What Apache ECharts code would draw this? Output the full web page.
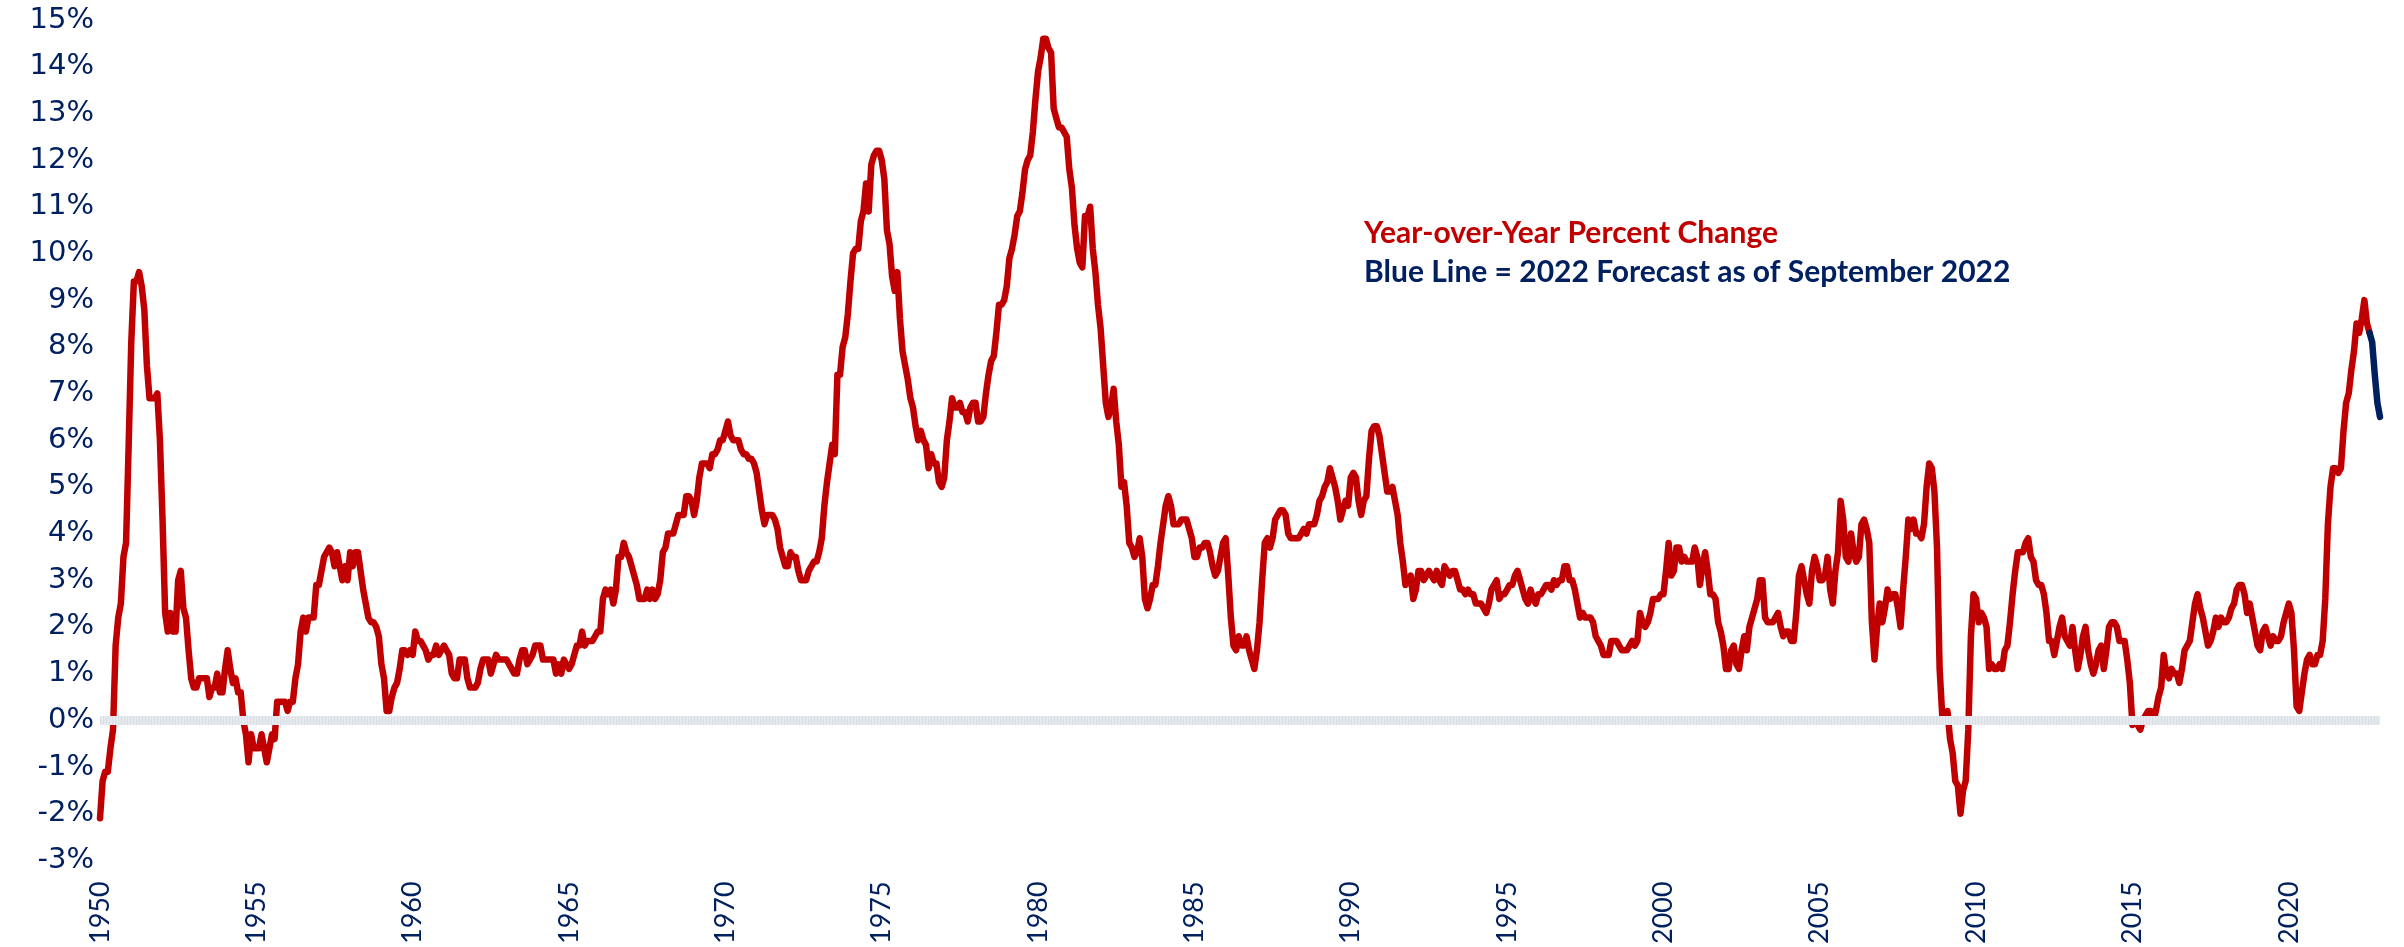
<!DOCTYPE html>
<html>
<head>
<meta charset="utf-8">
<title>CPI year-over-year</title>
<script src="https://cdn.jsdelivr.net/npm/echarts@6/dist/echarts.min.js"></script>
<style>
  html, body { margin: 0; padding: 0; background: #fff; }
  #cpi_chart { width: 2404px; height: 947px; }
</style>
</head>
<body>
<div id="cpi_chart"></div>
<script>
// 月度同比数据 (%), 每个数组一个年代, 每年 12 个月
var cpi1950s = [
  -2.1,-1.3,-1.1,-1.1,-0.6,-0.2, 1.6, 2.2, 2.5, 3.5, 3.8, 5.9,
   8.1, 9.4, 9.4, 9.6, 9.3, 8.8, 7.6, 6.9, 6.9, 6.9, 7.0, 6.0,
   4.3, 2.3, 1.9, 2.3, 1.9, 1.9, 3.0, 3.2, 2.4, 2.2, 1.5, 0.9,
   0.7, 0.7, 0.9, 0.9, 0.9, 0.9, 0.5, 0.7, 0.7, 1.0, 0.6, 0.6,
   1.1, 1.5, 1.1, 0.8, 0.9, 0.6, 0.6, 0.0,-0.3,-0.9,-0.3,-0.6,
  -0.6,-0.6,-0.3,-0.6,-0.9,-0.6,-0.3,-0.4, 0.4, 0.4, 0.4, 0.4,
   0.2, 0.4, 0.4, 0.9, 1.2, 1.9, 2.2, 1.9, 2.2, 2.2, 2.2, 2.9,
   2.9, 3.2, 3.5, 3.6, 3.7, 3.6, 3.3, 3.6, 3.3, 3.0, 3.3, 3.0,
   3.6, 3.3, 3.6, 3.6, 3.2, 2.8, 2.5, 2.2, 2.1, 2.1, 2.0, 1.8,
   1.2, 0.9, 0.2, 0.2, 0.5, 0.7, 0.8, 1.1, 1.5, 1.5, 1.4, 1.5
];
var cpi1960s = [
  1.4, 1.9, 1.7, 1.7, 1.6, 1.5, 1.3, 1.4, 1.4, 1.6, 1.4, 1.5,
  1.6, 1.5, 1.4, 1.0, 0.9, 0.9, 1.3, 1.3, 1.3, 0.9, 0.7, 0.7,
  0.7, 0.8, 1.1, 1.3, 1.3, 1.3, 1.0, 1.2, 1.4, 1.3, 1.3, 1.3,
  1.3, 1.2, 1.1, 1.0, 1.0, 1.3, 1.5, 1.5, 1.2, 1.3, 1.4, 1.6,
  1.6, 1.6, 1.3, 1.3, 1.3, 1.3, 1.3, 1.0, 1.2, 1.0, 1.3, 1.2,
  1.1, 1.2, 1.4, 1.6, 1.6, 1.9, 1.6, 1.7, 1.7, 1.7, 1.8, 1.9,
  1.9, 2.6, 2.8, 2.7, 2.8, 2.5, 2.8, 3.5, 3.5, 3.8, 3.6, 3.5,
  3.3, 3.1, 2.9, 2.6, 2.6, 2.6, 2.8, 2.6, 2.8, 2.6, 2.7, 3.0,
  3.6, 3.7, 4.0, 4.0, 4.0, 4.2, 4.4, 4.4, 4.4, 4.8, 4.8, 4.7,
  4.4, 4.7, 5.2, 5.5, 5.5, 5.5, 5.4, 5.7, 5.7, 5.8, 6.0, 6.0
];
var cpi1970s = [
   6.2, 6.4, 6.1, 6.0, 6.0, 6.0, 5.8, 5.7, 5.7, 5.6, 5.6, 5.5,
   5.3, 4.9, 4.5, 4.2, 4.4, 4.4, 4.4, 4.3, 4.1, 3.7, 3.5, 3.3,
   3.3, 3.6, 3.5, 3.5, 3.2, 3.0, 3.0, 3.0, 3.2, 3.3, 3.4, 3.4,
   3.6, 3.9, 4.6, 5.1, 5.5, 5.9, 5.7, 7.4, 7.4, 8.0, 8.2, 8.7,
   9.4,10.0,10.1,10.1,10.7,10.9,11.5,10.9,11.9,12.1,12.2,12.2,
  12.0,11.6,10.5,10.2, 9.5, 9.2, 9.6, 8.6, 7.9, 7.6, 7.3, 6.9,
   6.7, 6.3, 6.0, 6.2, 6.0, 5.9, 5.4, 5.7, 5.5, 5.5, 5.1, 5.0,
   5.2, 6.0, 6.4, 6.9, 6.7, 6.7, 6.8, 6.6, 6.6, 6.4, 6.7, 6.8,
   6.8, 6.4, 6.4, 6.5, 7.0, 7.4, 7.7, 7.8, 8.3, 8.9, 8.9, 9.0,
   9.3, 9.9,10.1,10.4,10.8,10.9,11.3,11.8,12.0,12.1,12.6,13.3
];
var cpi1980s = [
  13.9,14.2,14.6,14.6,14.4,14.3,13.1,12.9,12.7,12.7,12.6,12.5,
  11.8,11.4,10.6,10.1, 9.8, 9.7,10.8,10.8,11.0,10.1, 9.6, 8.9,
   8.4, 7.6, 6.8, 6.5, 6.7, 7.1, 6.4, 5.9, 5.0, 5.1, 4.6, 3.8,
   3.7, 3.5, 3.6, 3.9, 3.5, 2.6, 2.4, 2.6, 2.9, 2.9, 3.3, 3.8,
   4.2, 4.6, 4.8, 4.6, 4.2, 4.2, 4.2, 4.3, 4.3, 4.3, 4.1, 3.9,
   3.5, 3.5, 3.7, 3.7, 3.8, 3.8, 3.6, 3.3, 3.1, 3.2, 3.5, 3.8,
   3.9, 3.1, 2.2, 1.6, 1.5, 1.8, 1.6, 1.6, 1.8, 1.5, 1.3, 1.1,
   1.5, 2.1, 3.0, 3.8, 3.9, 3.7, 3.9, 4.3, 4.4, 4.5, 4.5, 4.4,
   4.0, 3.9, 3.9, 3.9, 3.9, 4.0, 4.1, 4.0, 4.2, 4.2, 4.2, 4.4,
   4.7, 4.8, 5.0, 5.1, 5.4, 5.2, 5.0, 4.7, 4.3, 4.5, 4.7, 4.6
];
var cpi1990s = [
  5.2, 5.3, 5.2, 4.7, 4.4, 4.7, 4.8, 5.6, 6.2, 6.3, 6.3, 6.1,
  5.7, 5.3, 4.9, 4.9, 5.0, 4.7, 4.4, 3.8, 3.4, 2.9, 3.0, 3.1,
  2.6, 2.8, 3.2, 3.2, 3.0, 3.1, 3.2, 3.1, 3.0, 3.2, 3.0, 2.9,
  3.3, 3.2, 3.1, 3.2, 3.2, 3.0, 2.8, 2.8, 2.7, 2.8, 2.7, 2.7,
  2.5, 2.5, 2.5, 2.4, 2.3, 2.5, 2.8, 2.9, 3.0, 2.6, 2.7, 2.7,
  2.8, 2.9, 2.9, 3.1, 3.2, 3.0, 2.8, 2.6, 2.5, 2.8, 2.6, 2.5,
  2.7, 2.7, 2.8, 2.9, 2.9, 2.8, 3.0, 2.9, 3.0, 3.0, 3.3, 3.3,
  3.0, 3.0, 2.8, 2.5, 2.2, 2.3, 2.2, 2.2, 2.2, 2.1, 1.8, 1.7,
  1.6, 1.4, 1.4, 1.4, 1.7, 1.7, 1.7, 1.6, 1.5, 1.5, 1.5, 1.6,
  1.7, 1.6, 1.7, 2.3, 2.1, 2.0, 2.1, 2.3, 2.6, 2.6, 2.6, 2.7
];
var cpi2000s = [
   2.7, 3.2, 3.8, 3.1, 3.2, 3.7, 3.7, 3.4, 3.5, 3.4, 3.4, 3.4,
   3.7, 3.5, 2.9, 3.3, 3.6, 3.2, 2.7, 2.7, 2.6, 2.1, 1.9, 1.6,
   1.1, 1.1, 1.5, 1.6, 1.2, 1.1, 1.5, 1.8, 1.5, 2.0, 2.2, 2.4,
   2.6, 3.0, 3.0, 2.2, 2.1, 2.1, 2.1, 2.2, 2.3, 2.0, 1.8, 1.9,
   1.9, 1.7, 1.7, 2.3, 3.1, 3.3, 3.0, 2.7, 2.5, 3.2, 3.5, 3.3,
   3.0, 3.0, 3.1, 3.5, 2.8, 2.5, 3.2, 3.6, 4.7, 4.3, 3.5, 3.4,
   4.0, 3.6, 3.4, 3.5, 4.2, 4.3, 4.1, 3.8, 2.1, 1.3, 2.0, 2.5,
   2.1, 2.4, 2.8, 2.6, 2.7, 2.7, 2.4, 2.0, 2.8, 3.5, 4.3, 4.1,
   4.3, 4.0, 4.0, 3.9, 4.2, 5.0, 5.5, 5.4, 4.9, 3.7, 1.1, 0.1,
   0.0, 0.2,-0.4,-0.7,-1.3,-1.4,-2.0,-1.5,-1.3,-0.2, 1.8, 2.7
];
var cpi2010s = [
   2.6, 2.1, 2.3, 2.2, 2.0, 1.1, 1.2, 1.1, 1.1, 1.2, 1.1, 1.5,
   1.6, 2.1, 2.7, 3.2, 3.6, 3.6, 3.6, 3.8, 3.9, 3.5, 3.4, 3.0,
   2.9, 2.9, 2.7, 2.3, 1.7, 1.7, 1.4, 1.7, 2.0, 2.2, 1.8, 1.7,
   1.6, 2.0, 1.5, 1.1, 1.4, 1.8, 2.0, 1.5, 1.2, 1.0, 1.2, 1.5,
   1.6, 1.1, 1.5, 2.0, 2.1, 2.1, 2.0, 1.7, 1.7, 1.7, 1.3, 0.8,
  -0.1, 0.0,-0.1,-0.2, 0.0, 0.1, 0.2, 0.2, 0.0, 0.2, 0.5, 0.7,
   1.4, 1.0, 0.9, 1.1, 1.0, 1.0, 0.8, 1.1, 1.5, 1.6, 1.7, 2.1,
   2.5, 2.7, 2.4, 2.2, 1.9, 1.6, 1.7, 1.9, 2.2, 2.0, 2.2, 2.1,
   2.1, 2.2, 2.4, 2.5, 2.8, 2.9, 2.9, 2.7, 2.3, 2.5, 2.2, 1.9,
   1.6, 1.5, 1.9, 2.0, 1.8, 1.6, 1.8, 1.7, 1.7, 1.8, 2.1, 2.3
];
// 2020 年 1 月 - 2022 年 8 月 实际值
var cpi2020s = [
  2.5, 2.3, 1.5, 0.3, 0.2, 0.6, 1.0, 1.3, 1.4, 1.2, 1.2, 1.4,
  1.4, 1.7, 2.6, 4.2, 5.0, 5.4, 5.4, 5.3, 5.4, 6.2, 6.8, 7.0,
  7.5, 7.9, 8.5, 8.3, 8.6, 9.0, 8.5, 8.3
];
// 2022 年 8 月 - 12 月 预测 (蓝线)
var forecast2022 = [8.3, 8.1, 7.4, 6.8, 6.5];

var firstYear = 1950;
var lastYear = 2022;
var yTicks = { min: -3, max: 15, step: 1 };

function draw_cpi_chart() {
    var chart = echarts.init(document.getElementById('cpi_chart'));

    var months = [];
    for (var y = firstYear; y <= lastYear; y++) {
        for (var m = 1; m <= 12; m++) {
            months.push(y + '-' + (m < 10 ? '0' + m : m));
        }
    }

    var actual = [].concat(cpi1950s, cpi1960s, cpi1970s, cpi1980s, cpi1990s, cpi2000s, cpi2010s, cpi2020s);
    var blue = [];
    for (var i = 0; i < months.length - forecast2022.length; i++) blue.push(null);
    blue = blue.concat(forecast2022);

    var navy = '#002060';
    var option = {
        animation: false,
        grid: { left: 100, right: 24, top: 20, bottom: 84, containLabel: false },
        xAxis: {
            type: 'category',
            data: months,
            boundaryGap: false,
            axisLine: { show: false, onZero: false },
            axisTick: { show: false },
            axisLabel: {
                rotate: 90,
                margin: 21,
                color: navy,
                fontFamily: 'Lato',
                fontSize: 27,
                interval: function (idx) { return idx % 60 === 0; },
                formatter: function (v) { return v.slice(0, 4); }
            },
            splitLine: { show: false }
        },
        yAxis: {
            type: 'value',
            min: yTicks.min,
            max: yTicks.max,
            interval: yTicks.step,
            axisLine: { show: false },
            axisTick: { show: false },
            splitLine: { show: false },
            axisLabel: {
                margin: 6,
                color: navy,
                fontFamily: 'DejaVu Sans',
                fontSize: 29,
                formatter: '{value}%'
            }
        },
        graphic: [
            {
                type: 'text', x: 1364, y: 233,
                style: { text: 'Year-over-Year Percent Change', fill: '#c00000',
                         font: 'bold 30px Lato', verticalAlign: 'middle' }
            },
            {
                type: 'text', x: 1364, y: 272,
                style: { text: 'Blue Line = 2022 Forecast as of September 2022', fill: navy,
                         font: 'bold 30px Lato', verticalAlign: 'middle' }
            }
        ],
        series: [
            {
                // 零线 (灰色带)
                name: 'zero',
                type: 'line',
                data: [],
                z: 1,
                silent: true,
                markLine: {
                    silent: true,
                    symbol: 'none',
                    label: { show: false },
                    data: [
                        { yAxis: 0, lineStyle: { color: '#e6e9ee', width: 9, type: 'solid' } },
                        { yAxis: 0, lineStyle: { color: '#dadee6', width: 9, type: [1, 2] } }
                    ]
                }
            },
            {
                name: 'YoY',
                type: 'line',
                data: actual,
                z: 3,
                symbol: 'none',
                lineStyle: { color: '#c00000', width: 6.5, cap: 'round', join: 'round' }
            },
            {
                name: 'Forecast',
                type: 'line',
                data: blue,
                z: 4,
                symbol: 'none',
                lineStyle: { color: navy, width: 6.5, cap: 'round', join: 'round' }
            }
        ]
    };
    chart.setOption(option);
}
draw_cpi_chart();
</script>
</body>
</html>
